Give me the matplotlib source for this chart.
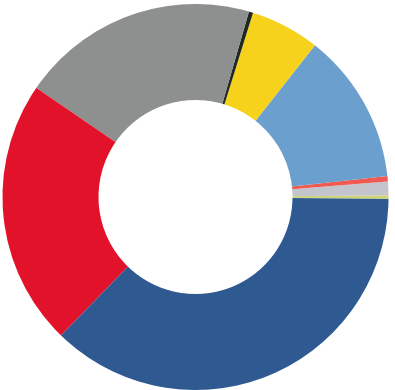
import matplotlib
matplotlib.use("Agg")
import matplotlib.pyplot as plt

categories = ["S1", "S2", "S3", "S4", "S5", "S6", "S7", "S8", "S9"]
values = [0.3, 1.15, 0.45, 12.65, 5.8, 0.35, 19.9, 22.3, 37.1]
colors = ["#cdd47a", "#c3c4cc", "#f05a50", "#6b9fcd", "#f6d21c",
          "#1e2820", "#8e9090", "#e3122b", "#2e5991"]

W, H = 395, 390
cx, cy, R, r = 195.5, 197.0, 193.0, 97.0

fig = plt.figure(figsize=(W / 100, H / 100), dpi=100)
ax = fig.add_axes([0, 0, 1, 1])
ax.pie(values, colors=colors, startangle=-0.6, counterclock=True,
       radius=1.0, wedgeprops=dict(width=1 - r / R, linewidth=0))
ax.set_xlim(-cx / R, (W - cx) / R)
ax.set_ylim(-(H - cy) / R, cy / R)
ax.set_aspect("equal")
ax.axis("off")
fig.savefig("out.png", dpi=100, facecolor="white")
